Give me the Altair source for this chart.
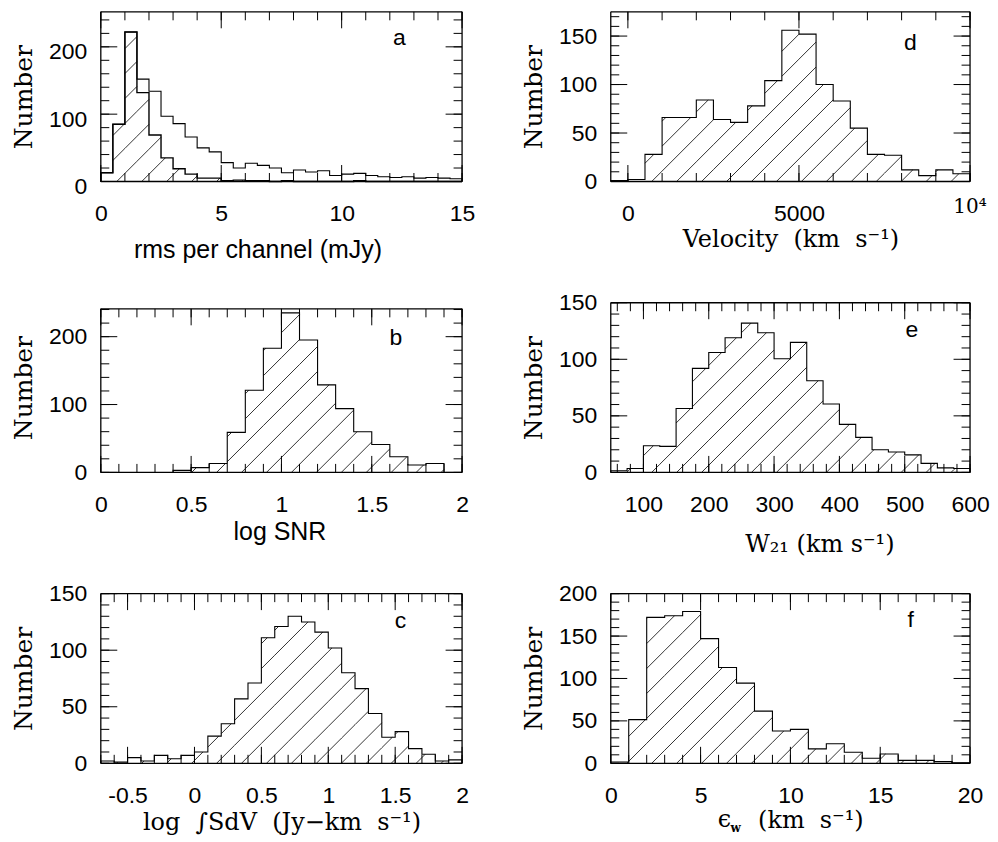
import altair as alt
import pandas as pd

# ---------------- data ----------------
# (a) rms per channel (mJy): all sources (open) and detections (hatched)
A_START, A_WIDTH = 0.0, 0.5
A_ALL = [13, 85, 222, 152, 134, 97, 86, 66, 50, 44, 28, 20, 27, 24, 20,
         13, 17, 14, 16, 9, 11, 12, 9, 7, 6, 7, 5, 6, 5, 4]
A_HATCH = [13, 85, 222, 132, 69, 35, 19, 11, 5, 5, 1, 2, 1, 1, 0,
           1, 0, 0, 0, 0, 0, 1, 0, 0, 0, 0, 0, 0, 0, 0]
# (b) log SNR
B_START, B_WIDTH = 0.4, 0.1
B_COUNTS = [3, 7, 13, 59, 121, 183, 235, 195, 129, 94, 60, 41, 23, 11, 13]
# (c) log integrated flux
C_START, C_WIDTH = -0.7, 0.1
C_COUNTS = [2, 1, 5, 2, 7, 4, 7, 10, 24, 35, 57, 71, 111, 121, 130, 125, 116,
            102, 80, 66, 44, 23, 28, 13, 8, 2, 3]
# (d) velocity
D_START, D_WIDTH = -500, 500
D_COUNTS = [1, 2, 28, 66, 66, 84, 64, 61, 78, 104, 156, 152, 100, 83, 55, 28,
            27, 12, 6, 12, 8]
# (e) W21
E_START, E_WIDTH = 50, 25
E_COUNTS = [1.5, 3.5, 23.5, 23, 56.5, 92, 106, 119, 132, 123.5, 100.5, 115, 81,
            60.5, 42.5, 31, 20, 18, 15.5, 8, 4, 3.5]
# (f) eps_w
F_START, F_WIDTH = 0, 1
F_COUNTS = [1.5, 51.5, 172, 174, 179, 147, 113, 94.5, 61.5, 38, 40, 17, 23, 13,
            6, 11, 3.5, 3.5, 2, 0.5]

# tick labels
A_XLAB = [0, 5, 10, 15]
A_YLAB = [0, 100, 200]
B_XLAB = [0, 0.5, 1, 1.5, 2]
B_YLAB = [0, 100, 200]
C_XLAB = [-0.5, 0, 0.5, 1, 1.5, 2]
C_YLAB = [0, 50, 100, 150]
D_XLAB = [0, 5000]
D_YLAB = [0, 50, 100, 150]
E_XLAB = [100, 200, 300, 400, 500, 600]
E_YLAB = [0, 50, 100, 150]
F_XLAB = [0, 5, 10, 15, 20]
F_YLAB = [0, 50, 100, 150, 200]

SANS = "Liberation Sans"
SERIF = "DejaVu Serif"
H = 170
HATCH_STEP = 25
HATCH_PHASE = 16
MAJ, MIN = 16.5, 8.5
NB = "\u00a0"


def frange(a, b, step):
    n = int(round((b - a) / step))
    return [round(a + i * step, 6) for i in range(n + 1)]


def step_points(start, width, counts):
    xs, ys = [start], [0]
    for i, c in enumerate(counts):
        x0 = start + i * width
        xs += [x0, x0 + width]
        ys += [c, c]
    xs.append(start + len(counts) * width)
    ys.append(0)
    return pd.DataFrame({"x": xs, "y": ys, "i": list(range(len(xs)))})


def hatch_df(start, width, counts, xdom, sx, sy):
    rows = []
    n_px = (len(counts) * width + start - xdom[0]) * sx
    kmin = -int(300 / HATCH_STEP) - 2
    kmax = int(n_px / HATCH_STEP) + 2
    for i, c in enumerate(counts):
        u0 = (start + i * width - xdom[0]) * sx
        u1 = u0 + width * sx
        vh = c * sy
        for k in range(kmin, kmax + 1):
            p = HATCH_PHASE + k * HATCH_STEP
            ua = max(u0, p)
            ub = min(u1, p + vh)
            if ub - ua > 0.3:
                rows.append({"x": xdom[0] + ua / sx, "y": (ua - p) / sy,
                             "x2": xdom[0] + ub / sx, "y2": (ub - p) / sy})
    return pd.DataFrame(rows)


def panel(p):
    w, h = p["w"], H
    x0, x1 = p["xdom"]
    y0, y1 = p["ydom"]
    sx = w / (x1 - x0)
    sy = h / (y1 - y0)
    ytop = p.get("yframe", y1)
    xs = alt.Scale(domain=p["xdom"], nice=False, zero=False)
    ys = alt.Scale(domain=p["ydom"], nice=False, zero=False)
    xaxis = alt.Axis(
        values=p["xlab"], title=p["xtitle"], ticks=False, tickSize=0, domain=False, grid=False,
        labelFont=SANS, labelFontSize=23, labelColor="black", labelPadding=21,
        labelFlush=False, labelOverlap=False,
        labelExpr="datum.value < 0 ? '-' + format(-datum.value, '~g') : format(datum.value, '~g')",
        titleFont=p["tfont"], titleFontSize=p["tsize"], titleFontWeight="normal",
        titleColor="black", titleX=p["tx"], titleY=p["ty"], titleAlign="center",
        titleBaseline="alphabetic",
    )
    yaxis = alt.Axis(
        values=p["ylab"], title="Number", ticks=False, tickSize=0, domain=False, grid=False,
        labelFont=SANS, labelFontSize=23, labelColor="black", labelPadding=14,
        labelFlush=False, labelOverlap=False, labelOffset=p.get("yloff", 0),
        titleFont=SERIF, titleFontSize=25, titleFontWeight="normal", titleColor="black",
        titleX=-69, titleY=h / 2, titleAngle=-90, titleAlign="center",
        titleBaseline="alphabetic",
    )
    X = alt.X("x:Q", scale=xs, axis=xaxis)
    Y = alt.Y("y:Q", scale=ys, axis=yaxis)
    layers = []
    for (start, width, counts) in p["hatch"]:
        hd = hatch_df(start, width, counts, p["xdom"], sx, sy)
        layers.append(alt.Chart(hd).mark_rule(color="black", strokeWidth=0.8).encode(
            x=X, y=Y, x2="x2:Q", y2="y2:Q"))
    for (start, width, counts, sw) in p["outlines"]:
        layers.append(alt.Chart(step_points(start, width, counts)).mark_line(
            color="black", strokeWidth=sw, interpolate="linear").encode(x=X, y=Y, order="i:Q"))
    # ticks (inward on all four sides), positioned through the scales
    rows = []
    for vals, L in ((p["xmaj"], MAJ), (p["xmin"], MIN)):
        for v in vals:
            rows.append({"x": v, "y": y0, "x2": v, "y2": y0 + L / sy})
            rows.append({"x": v, "y": ytop, "x2": v, "y2": ytop - L / sy})
    for vals, L in ((p["ymaj"], MAJ), (p["ymin"], MIN)):
        for v in vals:
            rows.append({"x": x0, "y": v, "x2": x0 + L / sx, "y2": v})
            rows.append({"x": x1, "y": v, "x2": x1 - L / sx, "y2": v})
    layers.append(alt.Chart(pd.DataFrame(rows)).mark_rule(color="black", strokeWidth=1).encode(
        x=X, y=Y, x2="x2:Q", y2="y2:Q"))
    # frame
    frame = pd.DataFrame([
        {"x": x0, "y": y0, "x2": x0, "y2": ytop},
        {"x": x1, "y": y0, "x2": x1, "y2": ytop},
        {"x": x0, "y": y0, "x2": x1, "y2": y0},
        {"x": x0, "y": ytop, "x2": x1, "y2": ytop},
    ])
    layers.append(alt.Chart(frame).mark_rule(color="black", strokeWidth=1.3).encode(
        x=X, y=Y, x2="x2:Q", y2="y2:Q"))
    # panel letter
    lx, ly, lt = p["letter"]
    layers.append(alt.Chart(pd.DataFrame({"x": [lx], "y": [ly], "t": [lt]})).mark_text(
        font=SANS, fontSize=23, baseline="alphabetic", align="center", color="black").encode(
        x=X, y=Y, text="t:N"))
    for extra in p.get("extras", []):
        layers.append(extra(X, Y, w, h))
    return alt.layer(*layers).properties(width=w, height=h, view=alt.ViewBackground(stroke=None))


def d_extra(X, Y, w, h):
    return alt.Chart(pd.DataFrame({"x": [10000], "t": ["10\u2074"]})).mark_text(
        font=SERIF, fontSize=20, baseline="alphabetic", align="center", color="black").encode(
        x=X, y=alt.value(h + 32), text="t:N")


def f_extra(X, Y, w, h):
    eps = alt.Chart(pd.DataFrame({"t": ["\u03f5"]})).mark_text(
        font=SERIF, fontSize=24, baseline="alphabetic", align="center",
        color="black").encode(x=alt.value(114), y=alt.value(h + 64), text="t:N")
    sub = alt.Chart(pd.DataFrame({"t": ["w"]})).mark_text(
        font=SERIF, fontSize=12, fontWeight="bold", baseline="alphabetic", align="left",
        color="black").encode(x=alt.value(120), y=alt.value(h + 69), text="t:N")
    return alt.layer(eps, sub)


WL, WR = 362, 360

pa = panel(dict(
    w=WL, xdom=[0, 15], ydom=[0, 252], xlab=A_XLAB, ylab=A_YLAB,
    xmaj=A_XLAB, xmin=frange(0, 15, 1), ymaj=A_YLAB, ymin=frange(0, 240, 20),
    xtitle="rms per channel (mJy)", tfont=SANS, tsize=25, tx=157, ty=76, yloff=5,
    hatch=[(A_START, A_WIDTH, A_HATCH)],
    outlines=[(A_START, A_WIDTH, A_ALL, 1.1), (A_START, A_WIDTH, A_HATCH, 1.4)],
    letter=(12.4, 203, "a")))

pb = panel(dict(
    w=WL, xdom=[0, 2], ydom=[0, 250], yframe=241, xlab=B_XLAB, ylab=B_YLAB,
    xmaj=B_XLAB, xmin=frange(0, 2, 0.1), ymaj=B_YLAB, ymin=frange(0, 240, 20),
    xtitle="log SNR", tfont=SANS, tsize=25, tx=WL / 2 - 2, ty=67,
    hatch=[(B_START, B_WIDTH, B_COUNTS)],
    outlines=[(B_START, B_WIDTH, B_COUNTS, 1.1)],
    letter=(1.634, 188, "b")))

pc = panel(dict(
    w=WL, xdom=[-0.7, 2], ydom=[0, 150], xlab=C_XLAB, ylab=C_YLAB,
    xmaj=C_XLAB, xmin=frange(-0.7, 2, 0.1), ymaj=C_YLAB, ymin=frange(0, 150, 10),
    xtitle="log" + NB + NB + "\u222bSdV" + NB + NB + "(Jy\u2212km" + NB + NB + "s\u207b\u00b9)",
    tfont=SERIF, tsize=24, tx=WL / 2, ty=66,
    hatch=[(C_START, C_WIDTH, C_COUNTS)],
    outlines=[(C_START, C_WIDTH, C_COUNTS, 1.1)],
    letter=(1.54, 120, "c")))

pd_ = panel(dict(
    w=WR, xdom=[-500, 10000], ydom=[0, 175], xlab=D_XLAB, ylab=D_YLAB,
    xmaj=[0, 5000, 10000], xmin=frange(0, 10000, 1000), ymaj=D_YLAB, ymin=frange(0, 170, 10),
    xtitle="Velocity" + NB + NB + "(km" + NB + NB + "s\u207b\u00b9)", tfont=SERIF, tsize=24,
    tx=WR / 2, ty=65,
    hatch=[(D_START, D_WIDTH, D_COUNTS)],
    outlines=[(D_START, D_WIDTH, D_COUNTS, 1.1)],
    letter=(8257, 136, "d"), extras=[d_extra]))

pe = panel(dict(
    w=WR, xdom=[50, 600], ydom=[0, 150], xlab=E_XLAB, ylab=E_YLAB,
    xmaj=E_XLAB, xmin=frange(60, 600, 20), ymaj=E_YLAB, ymin=frange(0, 150, 10),
    xtitle="W\u2082\u2081" + NB + "(km" + NB + "s\u207b\u00b9)", tfont=SERIF, tsize=24,
    tx=209, ty=79,
    hatch=[(E_START, E_WIDTH, E_COUNTS)],
    outlines=[(E_START, E_WIDTH, E_COUNTS, 1.1)],
    letter=(511, 120, "e")))

pf = panel(dict(
    w=WR, xdom=[0, 20], ydom=[0, 200], xlab=F_XLAB, ylab=F_YLAB,
    xmaj=F_XLAB, xmin=frange(0, 20, 1), ymaj=F_YLAB, ymin=frange(0, 200, 10),
    xtitle="(km" + NB + NB + "s\u207b\u00b9)", tfont=SERIF, tsize=24,
    tx=200, ty=64,
    hatch=[(F_START, F_WIDTH, F_COUNTS)],
    outlines=[(F_START, F_WIDTH, F_COUNTS, 1.1)],
    letter=(16.7, 161, "f"), extras=[f_extra]))

chart = alt.concat(pa, pd_, pb, pe, pc, pf, columns=2,
                   spacing={"row": 121.5, "column": 149}, bounds="flush").properties(
    padding={"left": 3, "top": 2, "right": 0, "bottom": 0}
).configure_view(stroke=None)

chart.save("out.html", embed_options={"renderer": "svg", "actions": False})
